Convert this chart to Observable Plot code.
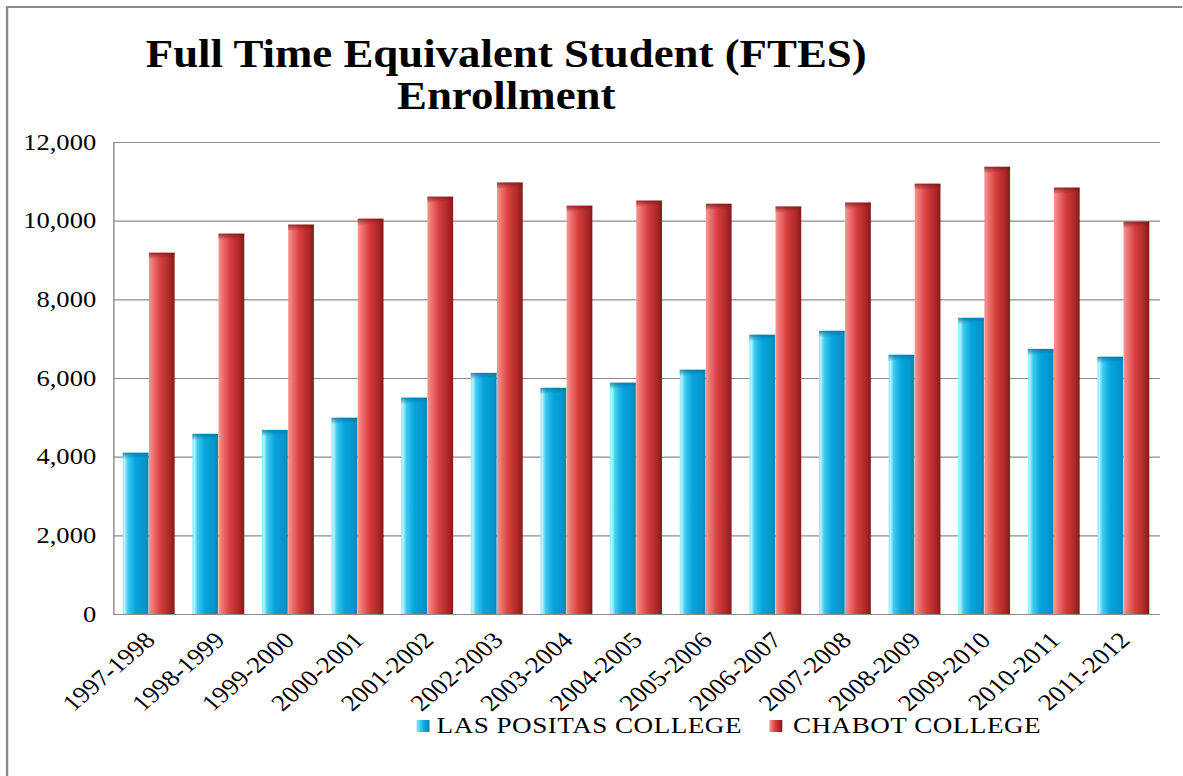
<!DOCTYPE html>
<html><head><meta charset="utf-8">
<script src="https://cdn.jsdelivr.net/npm/d3@7"></script>
<script src="https://cdn.jsdelivr.net/npm/@observablehq/plot@0.6"></script>
<style>
html,body{margin:0;padding:0;background:#fff;overflow:hidden}
#stage{position:absolute;left:0;top:0;width:1002px;height:776px;transform:scaleX(1.18);transform-origin:0 0;font-family:"Liberation Serif","Times New Roman",serif;color:#000}
#lineTop{position:absolute;left:5px;top:6px;width:997px;height:2px;background:#8a8a8a}
#lineLeft{position:absolute;left:5px;top:6px;width:2px;height:770px;background:#8a8a8a}
#title{position:absolute;left:0;top:33px;width:858px;text-align:center;font-size:40px;font-weight:bold;line-height:42px;transform:scaleX(0.95);transform-origin:429px 0}
#chart{position:absolute;left:0;top:120px}
.key{position:absolute;top:720px;width:11px;height:12px}
.lab{position:absolute;top:714px;font-size:23px;line-height:23px;white-space:nowrap;letter-spacing:0.4px}
</style></head><body>
<svg width="0" height="0" style="position:absolute;left:0;top:0">
<defs>
<linearGradient id="gBlue" x1="0" x2="1" y1="0" y2="0">
<stop offset="0" stop-color="#8fe9ff"/>
<stop offset="0.08" stop-color="#b0f4ff"/>
<stop offset="0.2" stop-color="#3fcbf0"/>
<stop offset="0.5" stop-color="#07a4de"/>
<stop offset="0.85" stop-color="#0596cc"/>
<stop offset="1" stop-color="#0a86b8"/>
</linearGradient>
<linearGradient id="gRed" x1="0" x2="1" y1="0" y2="0">
<stop offset="0" stop-color="#f39a90"/>
<stop offset="0.15" stop-color="#f07474"/>
<stop offset="0.45" stop-color="#d63e3e"/>
<stop offset="0.8" stop-color="#ad2828"/>
<stop offset="1" stop-color="#861a1a"/>
</linearGradient>
<linearGradient id="gBlueCap" x1="0" y1="0" x2="0.45" y2="1">
<stop offset="0" stop-color="#04628a" stop-opacity="0.75"/>
<stop offset="0.5" stop-color="#04628a" stop-opacity="0.35"/>
<stop offset="1" stop-color="#04628a" stop-opacity="0"/>
</linearGradient>
<linearGradient id="gRedCap" x1="0" y1="0" x2="0.45" y2="1">
<stop offset="0" stop-color="#6a1010" stop-opacity="0.75"/>
<stop offset="0.5" stop-color="#6a1010" stop-opacity="0.35"/>
<stop offset="1" stop-color="#6a1010" stop-opacity="0"/>
</linearGradient>
</defs>
</svg>
<div id="stage">
<div id="lineTop"></div>
<div id="lineLeft"></div>
<div id="title">Full Time Equivalent Student (FTES)<br>Enrollment</div>
<div id="chart"></div>
<div class="key" style="left:353px;background:linear-gradient(90deg,#8fe9ff,#3fcbf0 30%,#07a4de 60%,#0a86b8)"></div>
<div class="lab" id="lab0" style="left:370px"></div>
<div class="key" style="left:652px;background:linear-gradient(90deg,#f39a90,#d63e3e 45%,#861a1a)"></div>
<div class="lab" id="lab1" style="left:672px"></div>
</div>
<script>
const years = ["1997-1998","1998-1999","1999-2000","2000-2001","2001-2002","2002-2003","2003-2004","2004-2005","2005-2006","2006-2007","2007-2008","2008-2009","2009-2010","2010-2011","2011-2012"];
const lasPositas = [4100, 4580, 4680, 4990, 5500, 6130, 5750, 5880, 6210, 7100, 7200, 6590, 7530, 6740, 6540];
const chabot = [9185, 9670, 9900, 10050, 10610, 10970, 10380, 10510, 10430, 10360, 10460, 10940, 11370, 10840, 9975];
const seriesNames = ["LAS POSITAS COLLEGE", "CHABOT COLLEGE"];
const yTicks = [0, 2000, 4000, 6000, 8000, 10000, 12000];

const W = 1002, H = 600, ML = 96, MR = 19, MT = 22, MB = 106;
const padIn = 0.25, padOut = 0.125;
const step = (W - ML - MR) / (years.length - padIn + 2 * padOut);
const half = step * (1 - padIn) / 2;

const rowsA = years.map((y, i) => ({year: y, college: seriesNames[0], value: lasPositas[i]}));
const rowsB = years.map((y, i) => ({year: y, college: seriesNames[1], value: chabot[i]}));

const chart = Plot.plot({
  width: W, height: H,
  marginLeft: ML, marginRight: MR, marginTop: MT, marginBottom: MB,
  style: {fontFamily: '"Liberation Serif", "Times New Roman", serif', color: "#000", background: "transparent", overflow: "visible"},
  x: {domain: years, paddingInner: padIn, paddingOuter: padOut, axis: null},
  y: {domain: [0, 12000]},
  marks: [
    Plot.ruleY(yTicks.filter(d => d > 0), {stroke: "#8c8c8c", strokeWidth: 1.2, strokeOpacity: 1}),
    Plot.barY(rowsA, {x: "year", y: "value", fill: "url(#gBlue)", insetRight: half}),
    Plot.barY(rowsB, {x: "year", y: "value", fill: "url(#gRed)", insetLeft: half}),
    Plot.barY(rowsA, {x: "year", y1: "value", y2: "value", fill: "url(#gBlueCap)", insetRight: half, insetBottom: -6}),
    Plot.barY(rowsB, {x: "year", y1: "value", y2: "value", fill: "url(#gRedCap)", insetLeft: half, insetBottom: -6}),
    Plot.ruleY([0], {stroke: "#8c8c8c", strokeWidth: 1.2, strokeOpacity: 1}),
    Plot.frame({anchor: "left", stroke: "#8c8c8c", strokeWidth: 1.2, strokeOpacity: 1}),
    Plot.axisY({ticks: yTicks, tickFormat: d3.format(","), tickSize: 0, tickPadding: 15, fontSize: 22.5, label: null}),
    Plot.text(years, {x: d => d, frameAnchor: "bottom", rotate: -45, textAnchor: "end", lineAnchor: "middle", dx: 1, dy: 22, fontSize: 23, fill: "#000"})
  ]
});
document.getElementById("chart").appendChild(chart);
document.getElementById("lab0").textContent = seriesNames[0];
document.getElementById("lab1").textContent = seriesNames[1];
</script>
</body></html>
